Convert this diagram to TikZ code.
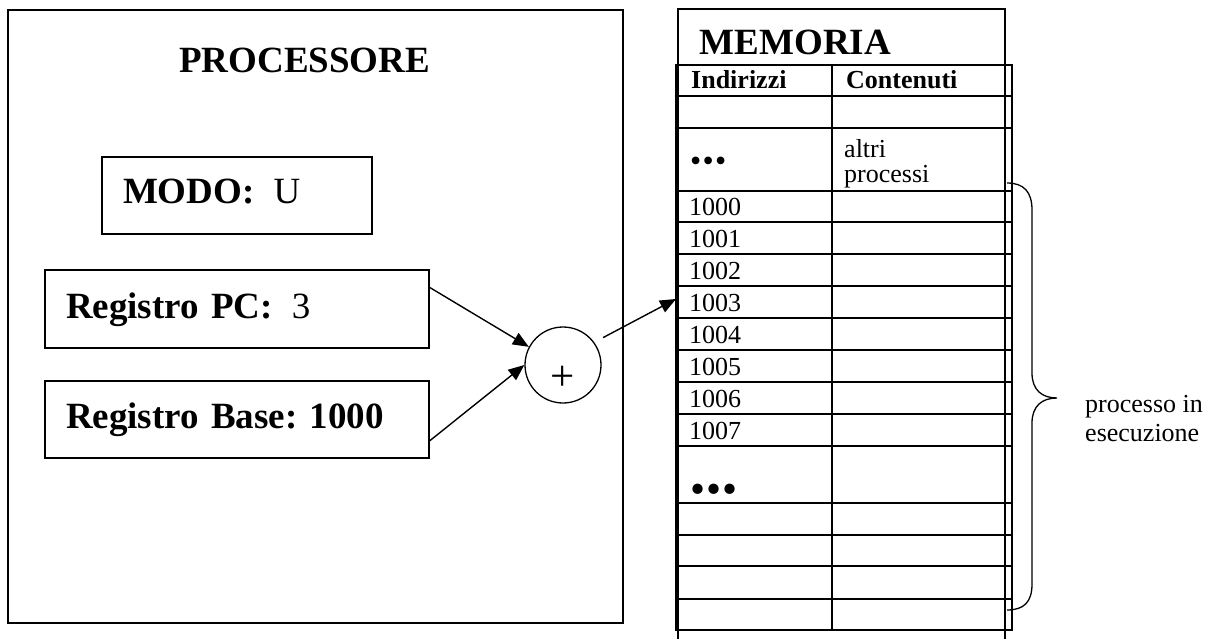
\documentclass[tikz,border=0pt]{standalone}
\usepackage{fontspec}
\setmainfont{Liberation Serif}
\usetikzlibrary{arrows.meta,calc}
\frenchspacing
\newcommand{\dotrow}[1]{•\kern#1•\kern#1•}
\begin{document}
\begin{tikzpicture}[x=1pt,y=-1pt,
  big/.style={font=\fontsize{37}{44}\selectfont\bfseries, inner sep=0pt},
  cell/.style={font=\fontsize{26}{25}\selectfont, inner sep=0pt},
  regbox/.style={draw, line width=1.6pt, inner xsep=21pt, inner ysep=0pt,
    align=left, text depth=7.5pt, font=\fontsize{37}{44}\selectfont},
  grid/.style={line width=1.6pt},
  link/.style={line width=1.4pt, -{Triangle[length=16pt,width=13pt]}},
]
\useasboundingbox (0,0) rectangle (1215,639);

% --- processor ---
\node[draw, line width=2pt, minimum width=615pt, minimum height=613pt,
      inner sep=0pt, anchor=north west] (cpu) at (7,9) {};
\node[big, anchor=base west] (cputitle) at (179,73) {PROCESSORE};
\node[regbox, text width=228pt, minimum height=77pt] (modo) at (237,195.5)
  {\textbf{MODO:}\hspace*{19pt}U};
\node[regbox, text width=342pt, minimum height=78pt] (pc) at (237,309)
  {\textbf{Registro PC:}\hspace*{19pt}3};
\node[regbox, text width=342pt, minimum height=77pt] (base) at (237,419.5)
  {\textbf{Registro Base: 1000}};

% --- adder ---
\node[circle, draw, line width=1.3pt, minimum size=76pt, inner sep=0pt,
      font=\fontsize{43}{50}\selectfont] (sum) at (563,365)
  {\raisebox{-25pt}[0pt][0pt]{+}};

% --- memory ---
\draw[line width=2pt] (678,641) -- (678,9) -- (1005,9) -- (1005,641);
\node[big, anchor=base west] (memtitle) at (699.5,55) {MEMORIA};

\draw[grid] (676,65) rectangle (1012,630);
\draw[grid] (832,65) -- (832,630);
\foreach \y in {96,128,191,222,254,286,318,350,382,414,446,503,535,566,599}
  \draw[grid] (676,\y) -- (1012,\y);

\node[cell, font=\fontsize{26}{25}\selectfont\bfseries, anchor=base west]
  (hdraddr) at (691,88.3) {Indirizzi};
\node[cell, font=\fontsize{26}{25}\selectfont\bfseries, anchor=base west]
  (hdrdata) at (846,88.3) {Contenuti};
\node[cell, font=\fontsize{32}{33}\selectfont, anchor=west]
  (dotsA) at (690,164) {\dotrow{1.2pt}};
\node[cell, anchor=north west, align=left] (others) at (844,139.2)
  {altri\\processi};
\foreach \n/\yb in {1000/222,1001/254,1002/286,1003/318,1004/350,1005/382,1006/414,1007/446}
  \node[cell, anchor=base west] (a\n) at (689,\yb-6.3) {\n};
\node[cell, font=\fontsize{43}{44}\selectfont, anchor=west]
  (dotsB) at (690.5,493.6) {\dotrow{1pt}};

% --- connectors ---
\coordinate (addr) at (676,299);
\draw[link] ($(pc.north east)!0.23!(pc.south east)$) -- (sum.152);
\draw[link] ($(base.north east)!0.77!(base.south east)$) -- (sum.west);
\draw[link, shorten <=10pt] (sum.36) -- (addr);

% --- brace over the running process ---
\coordinate (btop) at (1007,183);
\coordinate (bbot) at (1007,610);
\draw[line width=1.3pt] (btop) .. controls (1024,183) and (1032,192) .. (1032,210)
  -- (1032,373) .. controls (1032,390) and (1042,398) .. (1057,398)
  .. controls (1042,398) and (1032,406) .. (1032,423)
  -- (1032,584) .. controls (1032,602) and (1024,610) .. (bbot);
\node[cell, anchor=north west, align=left, font=\fontsize{26}{28.7}\selectfont]
  (running) at (1085,395.2) {processo in\\esecuzione};
\end{tikzpicture}
\end{document}
